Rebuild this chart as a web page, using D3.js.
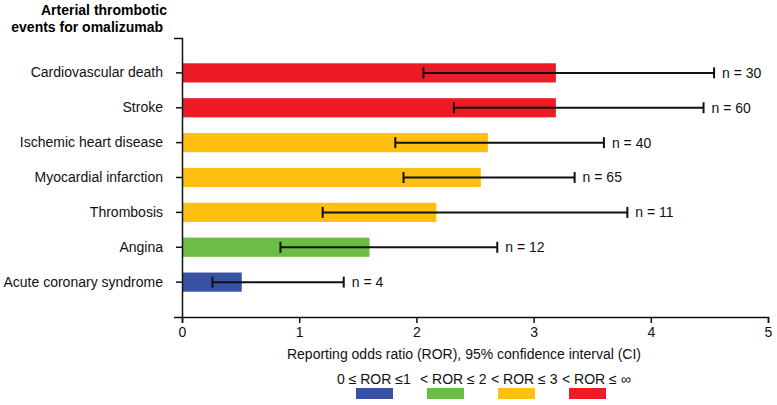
<!DOCTYPE html>
<html>
<head>
<meta charset="utf-8">
<script src="https://cdn.jsdelivr.net/npm/d3@7"></script>
<style>
  body { margin: 0; background: #fff; }
  svg { display: block; font-family: Arial, "Liberation Sans", sans-serif; }
</style>
</head>
<body>
<div id="chart"></div>
<script>
// chart data
var categories = ['Cardiovascular death', 'Stroke', 'Ischemic heart disease', 'Myocardial infarction',
                  'Thrombosis', 'Angina', 'Acute coronary syndrome'];
var rorValues = [3.19, 3.19, 2.61, 2.55, 2.17, 1.60, 0.51];
var ciLower = [2.06, 2.32, 1.82, 1.89, 1.20, 0.84, 0.26];
var ciUpper = [4.54, 4.45, 3.60, 3.35, 3.80, 2.69, 1.38];
var counts = [30, 60, 40, 65, 11, 12, 4];
var xTicks = [0, 1, 2, 3, 4, 5];
var legendLabels = ['0 \u2264 ROR \u22641', '< ROR \u2264 2', '< ROR \u2264 3', '< ROR \u2264 \u221e'];
var legendColors = ['#3953a4', '#6bbd45', '#fdc010', '#ed1c24'];

var width = 777, height = 405;
var plotLeft = 182, plotRight = 768, plotTop = 38, plotBottom = 317;

var svg = d3.select('#chart')
  .append('svg')
  .attr('width', width)
  .attr('height', height);

var x = d3.scaleLinear().domain([0, 5]).range([plotLeft, plotRight]);
var y = d3.scaleBand().domain(categories).range([plotTop, plotBottom])
  .paddingInner(0.45).paddingOuter(0.725);

// color by ROR class
var color = d3.scaleThreshold().domain([1, 2, 3]).range(legendColors);

var rows = categories.map(function(c, i){
  return { name: c, ror: rorValues[i], lo: ciLower[i], hi: ciUpper[i], n: counts[i] };
});

// title
svg.append('text')
  .attr('text-anchor', 'end')
  .attr('font-size', 14)
  .attr('font-weight', 'bold')
  .selectAll('tspan')
  .data(['Arterial thrombotic', 'events for omalizumab'])
  .enter()
  .append('tspan')
  .attr('x', function(d, i){ return i === 0 ? 167 : 163 })
  .attr('y', function(d, i){ return 15 + i * 17 })
  .text(function(d){ return d });

// bars
svg.selectAll('.bar')
  .data(rows)
  .enter()
  .append('rect')
  .attr('class', 'bar')
  .attr('x', x(0))
  .attr('y', function(d){ return y(d.name) })
  .attr('width', function(d){ return x(d.ror) - x(0) })
  .attr('height', y.bandwidth())
  .attr('fill', function(d){ return color(d.ror) });

// error bars
var err = svg.selectAll('.err')
  .data(rows)
  .enter()
  .append('g')
  .attr('class', 'err')
  .attr('stroke', '#111')
  .attr('stroke-width', 2);

var cy = function(d){ return y(d.name) + y.bandwidth() / 2 };

err.append('line')
  .attr('x1', function(d){ return x(d.lo) })
  .attr('x2', function(d){ return x(d.hi) })
  .attr('y1', cy)
  .attr('y2', cy);
err.append('line')
  .attr('x1', function(d){ return x(d.lo) })
  .attr('x2', function(d){ return x(d.lo) })
  .attr('y1', function(d){ return cy(d) - 5.5 })
  .attr('y2', function(d){ return cy(d) + 5.5 });
err.append('line')
  .attr('x1', function(d){ return x(d.hi) })
  .attr('x2', function(d){ return x(d.hi) })
  .attr('y1', function(d){ return cy(d) - 5.5 })
  .attr('y2', function(d){ return cy(d) + 5.5 });

// n labels
svg.selectAll('.nlab')
  .data(rows)
  .enter()
  .append('text')
  .attr('class', 'nlab')
  .attr('x', function(d){ return x(d.hi) + 8 })
  .attr('y', cy)
  .attr('dy', '0.35em')
  .attr('font-size', 14)
  .attr('fill', '#111')
  .text(function(d){ return 'n = ' + d.n });

// axes
var yAxis = svg.append('g')
  .attr('transform', 'translate(' + plotLeft + ',0)')
  .call(d3.axisLeft(y).tickSize(6).tickSizeOuter(8).tickPadding(13));

var xAxis = svg.append('g')
  .attr('transform', 'translate(0,' + plotBottom + ')')
  .call(d3.axisBottom(x).tickValues(xTicks).tickFormat(d3.format('d')).tickSize(6).tickSizeOuter(6).tickPadding(4));

[yAxis, xAxis].forEach(function(a){
  a.selectAll('path, line').attr('stroke', '#111').attr('stroke-width', 1.5);
  a.selectAll('text').attr('font-size', 14).attr('fill', '#111')
    .attr('font-family', 'Arial, "Liberation Sans", sans-serif');
});

svg.append('text')
  .attr('x', 464)
  .attr('y', 359)
  .attr('text-anchor', 'middle')
  .attr('font-size', 14)
  .attr('fill', '#111')
  .text('Reporting odds ratio (ROR), 95% confidence interval (CI)');

// legend
var lx = function(i){ return 356 + i * 71 };
var legend = svg.selectAll('.legend')
  .data(legendLabels)
  .enter()
  .append('g')
  .attr('class', 'legend');

legend.append('text')
  .attr('x', function(d, i){ return lx(i) - (i === 0 ? 19 : 7) })
  .attr('y', 384)
  .attr('font-size', 14)
  .attr('fill', '#111')
  .text(function(d){ return d });

legend.append('rect')
  .attr('x', function(d, i){ return lx(i) })
  .attr('y', 388)
  .attr('width', 37)
  .attr('height', 11)
  .attr('fill', function(d, i){ return legendColors[i] });
</script>
</body>
</html>
